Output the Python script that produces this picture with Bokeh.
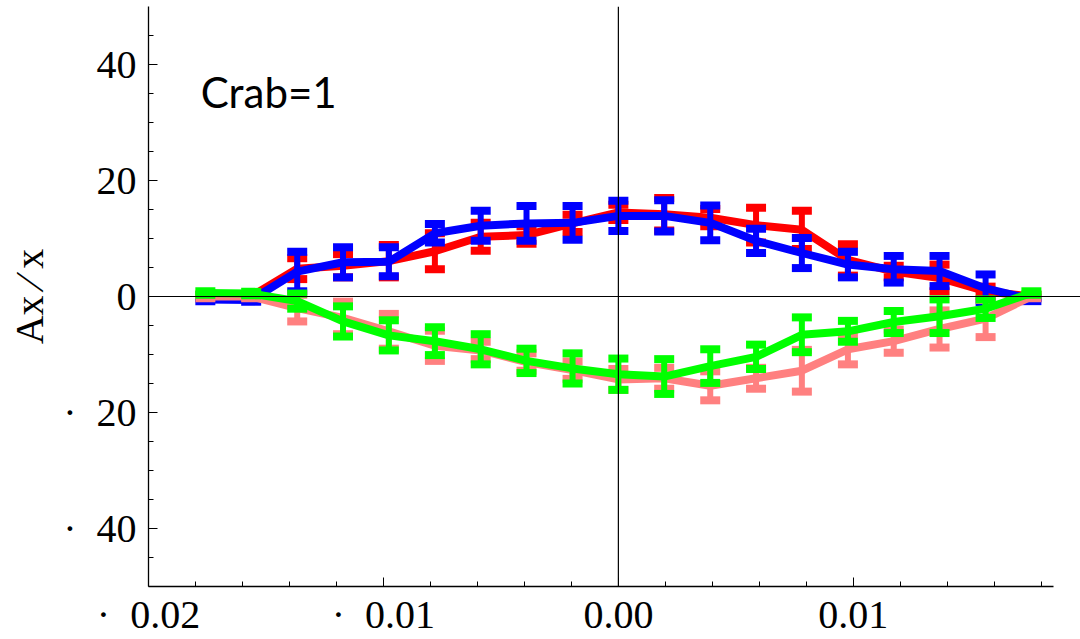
from bokeh.plotting import figure
from bokeh.models import FixedTicker, CustomJSTickFormatter, Span, Label, ColumnDataSource
from bokeh.embed import file_html
from bokeh.resources import INLINE

# displacement positions (k / 512)
xpos = [-0.01758, -0.01563, -0.01367, -0.01172, -0.00977, -0.00781, -0.00586, -0.00391, -0.00195,
        0.0, 0.00195, 0.00391, 0.00586, 0.00781, 0.00977, 0.01172, 0.01367, 0.01563, 0.01758]

# upper branch
red_val = [0.0, 0.0, 4.8, 5.3, 6.1, 7.8, 10.3, 10.6, 12.6, 14.5, 14.2, 13.6, 12.3, 11.5, 6.3, 4.3, 3.2, 0.9, 0.0]
red_err = [0.3, 0.3, 1.8, 2.0, 2.8, 3.1, 2.4, 1.5, 1.5, 1.3, 2.8, 1.5, 3.0, 3.3, 2.7, 1.0, 2.3, 0.8, 0.3]
blue_val = [-0.5, -0.6, 4.3, 5.9, 6.0, 10.9, 12.2, 12.6, 12.7, 13.9, 13.9, 12.7, 9.6, 7.5, 5.5, 4.7, 4.4, 1.4, -0.5]
blue_err = [0.3, 0.3, 3.4, 2.6, 2.5, 1.6, 2.6, 3.0, 2.9, 2.6, 2.7, 3.0, 2.1, 2.6, 2.2, 2.3, 2.6, 2.4, 0.3]

# lower branch
pink_val = [0.0, 0.0, -2.0, -3.7, -6.0, -8.5, -9.3, -11.3, -12.7, -14.3, -14.1, -15.4, -14.1, -12.8, -9.1, -7.7, -5.6, -3.8, 0.0]
pink_err = [0.3, 0.3, 2.3, 2.8, 3.0, 2.6, 1.5, 1.5, 1.5, 1.8, 1.8, 2.5, 1.8, 3.6, 2.6, 2.0, 3.2, 3.2, 0.3]
green_val = [0.6, 0.5, -0.8, -4.3, -6.7, -7.7, -9.1, -11.1, -12.4, -13.4, -13.8, -12.0, -10.4, -6.6, -6.0, -4.4, -3.4, -2.1, 0.6]
green_err = [0.3, 0.3, 1.3, 2.6, 2.6, 2.4, 2.6, 2.1, 2.6, 2.7, 3.0, 2.9, 2.1, 3.0, 1.8, 1.9, 2.9, 1.6, 0.3]

y_major = [-40, -20, 0, 20, 40]
y_minor = [-45, -35, -30, -25, -15, -10, -5, 5, 10, 15, 25, 30, 35, 45]
x_major = [-0.02, -0.01, 0.0, 0.01]
x_minor = [-0.018, -0.016, -0.014, -0.012, -0.008, -0.006, -0.004, -0.002,
           0.002, 0.004, 0.006, 0.008, 0.012, 0.014, 0.016, 0.018]

serif = "Liberation Serif"

p = figure(width=1080, height=639, x_range=(-0.02, 0.01967), y_range=(-50, 50),
           output_backend="svg", toolbar_location=None,
           min_border_left=148, min_border_right=0, min_border_top=6, min_border_bottom=51)
p.outline_line_color = None
p.xgrid.visible = False
p.ygrid.visible = False
p.background_fill_color = "white"
p.border_fill_color = "white"

for ax in (p.xaxis[0], p.yaxis[0]):
    ax.axis_line_color = "black"
    ax.axis_line_width = 1.3
    ax.major_tick_line_color = "black"
    ax.minor_tick_line_color = "black"
    ax.major_tick_in = 9
    ax.major_tick_out = 0
    ax.minor_tick_in = 5
    ax.minor_tick_out = 0
    ax.major_label_text_font = serif
    ax.major_label_text_font_size = "40px"
    ax.major_label_text_color = "black"

p.xaxis.ticker = FixedTicker(ticks=x_major, minor_ticks=x_minor)
p.yaxis.ticker = FixedTicker(ticks=y_major, minor_ticks=y_minor)
p.xaxis.bounds = (-0.02, 0.0185)
p.xaxis.major_label_standoff = 5
p.yaxis.major_label_standoff = 12

p.xaxis.formatter = CustomJSTickFormatter(code="""
    const s = Math.abs(tick).toFixed(2);
    return tick < -1e-9 ? "\u00b7\u00a0\u00a0" + s : s;
""")
p.yaxis.formatter = CustomJSTickFormatter(code="""
    const s = Math.abs(tick).toFixed(0);
    return tick < -1e-9 ? "\u00b7\u00a0\u00a0" + s : s;
""")

p.yaxis.axis_label = "Ax \u2044 x"
p.yaxis.axis_label_text_font = serif
p.yaxis.axis_label_text_font_size = "40px"
p.yaxis.axis_label_text_font_style = "normal"
p.yaxis.axis_label_text_color = "black"
p.yaxis.axis_label_standoff = 8

# zero reference lines
p.add_layout(Span(location=0, dimension="width", line_color="black", line_width=1.2))
p.add_layout(Span(location=0, dimension="height", line_color="black", line_width=1.2))


def series(vals, errs, color):
    lo = [v - e for v, e in zip(vals, errs)]
    hi = [v + e for v, e in zip(vals, errs)]
    src = ColumnDataSource(dict(x=xpos, y=vals, lo=lo, hi=hi))
    p.line("x", "y", source=src, line_color=color, line_width=8, line_join="round")
    p.segment("x", "lo", "x", "hi", source=src, line_color=color, line_width=6)
    for col in ("lo", "hi"):
        p.rect("x", col, source=src, width=20, height=8, width_units="screen",
               height_units="screen", fill_color=color, line_color=None)


series(red_val, red_err, "#ff0000")
series(blue_val, blue_err, "#0000ff")
series(pink_val, pink_err, "#ff8080")
series(green_val, green_err, "#00ff00")

p.add_layout(Label(x=-0.01778, y=35.2, text="Crab=1", text_font="Lato",
                   text_font_size="42px", text_color="black", text_baseline="alphabetic"))

open("out.html", "w").write(file_html(p, INLINE))
